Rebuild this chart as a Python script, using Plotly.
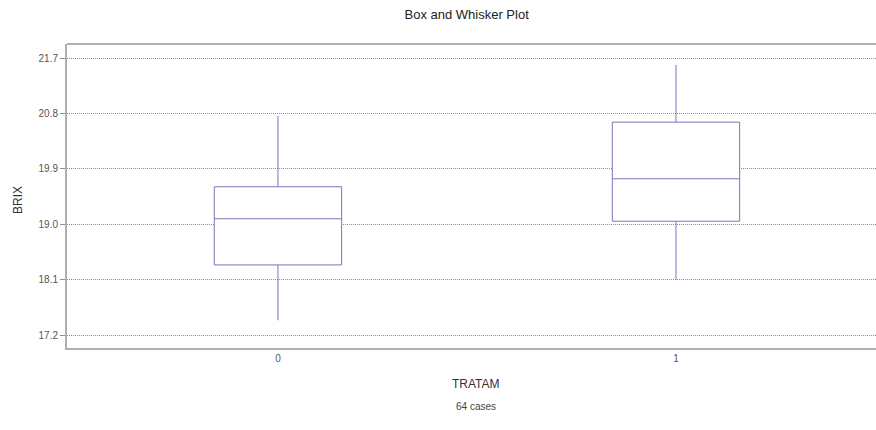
import plotly.graph_objects as go

# Treatment groups and BRIX summary statistics
tratam = [0, 1]
lower_whisker = [17.44, 18.10]
q1 = [18.34, 19.05]
median = [19.09, 19.74]
q3 = [19.61, 20.66]
upper_whisker = [20.76, 21.59]
y_ticks = [17.2, 18.1, 19.0, 19.9, 20.8, 21.7]
n_cases = 64

BOX_COLOR = "#7676ba"
FRAME = "#b0b0b0"
GRID = "#8f8f8f"
FONT = "Liberation Sans Narrow, Liberation Sans, Arial, sans-serif"

fig = go.Figure()
fig.add_trace(go.Box(
    x=tratam,
    q1=q1, median=median, q3=q3,
    lowerfence=lower_whisker, upperfence=upper_whisker,
    width=0.32,
    whiskerwidth=0,
    fillcolor="white",
    line=dict(color=BOX_COLOR, width=1),
    boxpoints=False,
    hoverinfo="y",
    showlegend=False,
))

fig.update_layout(
    width=876, height=430,
    margin=dict(l=67, r=0, t=44, b=82),
    paper_bgcolor="white", plot_bgcolor="white",
    font=dict(family=FONT, color="#444444", size=10),
    title=dict(text="Box and Whisker Plot", x=0.494, xref="paper", xanchor="center",
               y=1 - 14 / 430, yref="container", yanchor="middle",
               font=dict(family="Liberation Sans, Arial, sans-serif", size=13, color="#222222")),
    xaxis=dict(
        range=[-0.53, 1.5025],
        tickmode="array", tickvals=tratam, ticktext=[str(t) for t in tratam],
        showgrid=False, zeroline=False,
        showline=True, linecolor=FRAME, linewidth=2,
        ticks="", tickfont=dict(size=10, color="#555555"),
    ),
    yaxis=dict(
        range=[16.99, 21.93],
        tickmode="array", tickvals=y_ticks, ticktext=[f"{v:.1f}" for v in y_ticks],
        showgrid=True, gridcolor=GRID, griddash="1px,1px", gridwidth=1,
        zeroline=False,
        showline=True, linecolor=FRAME, linewidth=2,
        ticks="outside", ticklen=5, tickcolor=GRID,
        tickfont=dict(size=10, color="#555555"),
    ),
    shapes=[dict(type="line", xref="paper", yref="paper", x0=0, x1=1, y0=1, y1=1,
                 line=dict(color=FRAME, width=2))],
    annotations=[
        dict(text="BRIX", xref="paper", yref="paper", x=-0.0606, y=0.487,
             textangle=-90, showarrow=False, xanchor="center", yanchor="middle",
             font=dict(family="Liberation Sans, Arial, sans-serif", size=12, color="#333333")),
        dict(text="TRATAM", xref="paper", yref="paper", x=0.5056, y=-36 / 304,
             showarrow=False, xanchor="center", yanchor="middle",
             font=dict(family="Liberation Sans, Arial, sans-serif", size=12, color="#333333")),
        dict(text=f"{n_cases} cases", xref="paper", yref="paper", x=0.5056, y=-58 / 304,
             showarrow=False, xanchor="center", yanchor="middle",
             font=dict(family=FONT, size=10, color="#444444")),
    ],
)

fig.write_html("out.html")
